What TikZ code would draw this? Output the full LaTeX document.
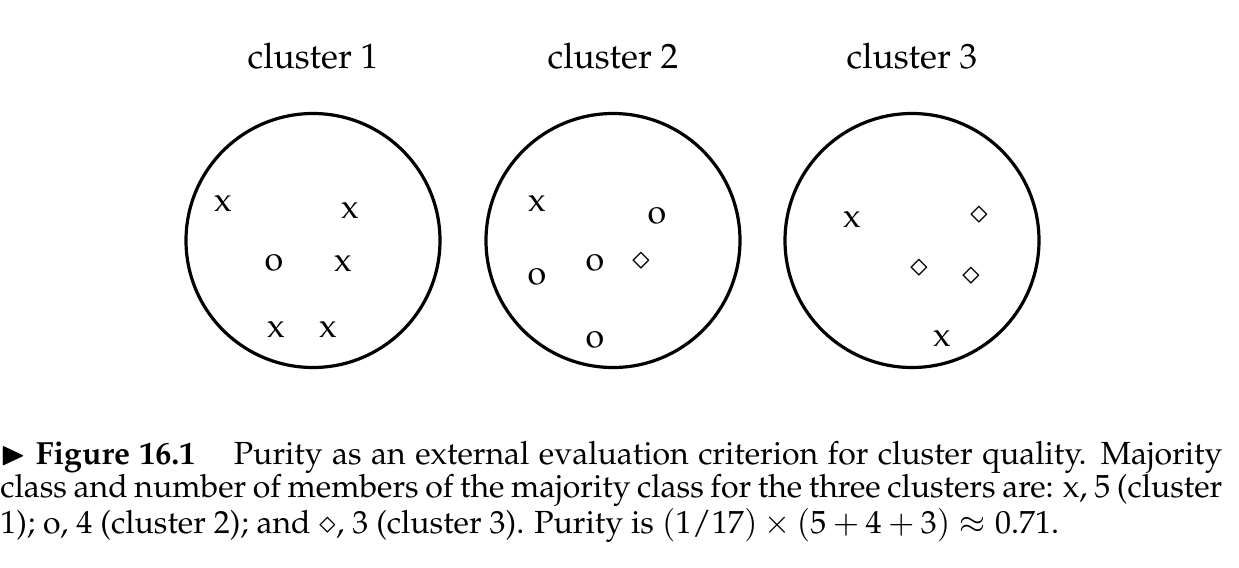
\documentclass[tikz,border=0pt]{standalone}
\usepackage[T1]{fontenc}
\usepackage{mathpazo}
\usepackage{amssymb}
\begin{document}
\begin{tikzpicture}[x=0.5pt,y=-0.5pt,
  ring/.style={draw, line width=1.6pt, circle, minimum size=127pt, inner sep=0},
  sym/.style={inner sep=0, font=\fontsize{17}{17}\selectfont},
  title/.style={inner sep=0, anchor=base, font=\fontsize{17.6}{20}\selectfont},
  caption/.style={inner sep=0, anchor=base west, text width=611pt, align=justify,
    font=\fontsize{16}{16.9}\selectfont}
]
\useasboundingbox (0,0) rectangle (1239,568);
% titles
\node[title] (t1) at (313,68) {cluster 1};
\node[title] (t2) at (613,68) {cluster 2};
\node[title] (t3) at (912,68) {cluster 3};
% circles
\node[ring] (c1) at (313,240.5) {};
\node[ring] (c2) at (613,240.5) {};
\node[ring] (c3) at (912,240.5) {};
% cluster 1
\node[sym] (a1) at (223,203) {x};
\node[sym] (a2) at (350,210) {x};
\node[sym] (a3) at (274,263) {o};
\node[sym] (a4) at (343,263) {x};
\node[sym] (a5) at (276,329) {x};
\node[sym] (a6) at (328,329) {x};
% cluster 2
\node[sym] (b1) at (537,203) {x};
\node[sym] (b2) at (657,216) {o};
\node[sym] (b3) at (537,277) {o};
\node[sym] (b4) at (595,263) {o};
\node[sym] (b5) at (641,262) {$\diamond$};
\node[sym] (b6) at (595,340) {o};
% cluster 3
\node[sym] (d1) at (852,219) {x};
\node[sym] (d2) at (979,216) {$\diamond$};
\node[sym] (d3) at (919,269) {$\diamond$};
\node[sym] (d4) at (971,277) {$\diamond$};
\node[sym] (d5) at (942,338) {x};
% caption
\node[caption] (cap) at (0,464) {$\blacktriangleright$\ \textbf{Figure 16.1}\hspace{1.2em}Purity as an external evaluation criterion for cluster quality. Majority\linebreak
class and number of members of the majority class for the three clusters are: x, 5 (cluster\linebreak
1); o, 4 (cluster 2); and $\diamond$, 3 (cluster 3). Purity is $(1/17)\times(5+4+3)\approx 0.71$.};
\end{tikzpicture}
\end{document}
